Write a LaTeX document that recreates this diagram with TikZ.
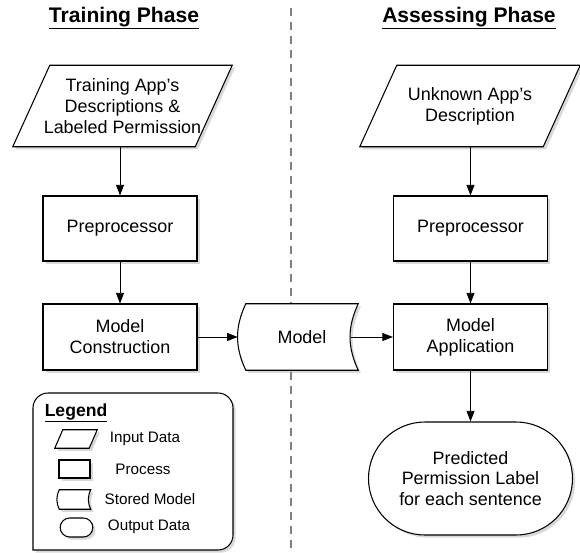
\documentclass[tikz,border=0pt]{standalone}
\usepackage{fontspec}
\setmainfont{Liberation Sans}
\usetikzlibrary{shapes.misc,shadows,arrows.meta}
\pgfdeclarelayer{bg}
\pgfsetlayers{bg,main}

\tikzset{
  shade box/.style={drop shadow={shadow xshift=0.08cm,shadow yshift=-0.08cm,opacity=0.3}},
  outline/.style={draw,fill=white,line width=0.9pt},
  process/.style={rectangle,outline,shade box,align=center},
  output/.style={rounded rectangle,outline,shade box,align=center,inner sep=0pt},
  flow/.style={-{Triangle[length=0.32cm,width=0.24cm]},line width=0.8pt},
  big/.style={font=\fontsize{15.3}{17.8}\selectfont},
  small/.style={font=\fontsize{13}{15}\selectfont},
  heading/.style={font=\fontsize{18}{21}\selectfont\bfseries}
}
% stored data outline drawn round a node
\newcommand\storedpath[2]{%
  \begin{pgfonlayer}{bg}
  \path[outline,shade box] (#1.north west) to[bend right=#2] (#1.south west)
    -- (#1.south east) to[bend left=#2] (#1.north east) -- cycle;
  \end{pgfonlayer}}
% input data outline (parallelogram) drawn round a node
\newcommand\inputpath[2]{%
  \begin{pgfonlayer}{bg}
  \path[outline,shade box] ([xshift=#2]#1.north west) -- (#1.north east)
    -- ([xshift=-#2]#1.south east) -- (#1.south west) -- cycle;
  \end{pgfonlayer}}

\begin{document}
\begin{tikzpicture}[x=0.03cm,y=-0.03cm]
  \useasboundingbox (0,0) rectangle (580,553);

  % phase headings and separator
  \node[heading] (train) at (124,18) {\underline{Training Phase}};
  \node[heading] (assess) at (469,18) {\underline{Assessing Phase}};
  \coordinate (sepTop) at (291,8);
  \coordinate (sepBot) at (291,553);
  \begin{pgfonlayer}{bg}
    \draw[gray,line width=1.1pt,dash pattern=on 0.24cm off 0.18cm] (sepTop) -- (sepBot);
  \end{pgfonlayer}

  % training column
  \node[big,align=center,minimum width=6.57cm,minimum height=2.43cm,inner sep=0pt] (in1) at (122.5,106)
    {Training App's\\Descriptions \&\\Labeled Permission};
  \inputpath{in1}{1.11cm}
  \node[process,big,minimum width=4.62cm,minimum height=1.95cm] (pre1) at (120,228.5) {Preprocessor};
  \node[process,big,minimum width=4.62cm,minimum height=1.98cm] (mc1) at (120,337) {Model\\Construction};

  % stored model
  \node[big,minimum width=3.36cm,minimum height=1.98cm,inner sep=0pt] (model) at (302,337) {Model};
  \storedpath{model}{25}

  % assessing column
  \node[big,align=center,minimum width=6.6cm,minimum height=2.43cm,inner sep=0pt] (in2) at (470,106)
    {Unknown App's\\Description};
  \inputpath{in2}{1.11cm}
  \node[process,big,minimum width=4.62cm,minimum height=1.95cm] (pre2) at (470.5,228.5) {Preprocessor};
  \node[process,big,minimum width=4.62cm,minimum height=1.98cm] (ma2) at (470.5,337) {Model\\Application};
  \node[output,big,minimum width=6.12cm,minimum height=3.39cm] (out2) at (470.5,478.5)
    {Predicted\\Permission Label\\for each sentence};

  \draw[flow] (in1.south -| pre1.north) -- (pre1.north);
  \draw[flow] (pre1) -- (mc1);
  \draw[flow] (mc1.east) -- ([xshift=-0.24cm]model.west);
  \draw[flow] ([xshift=-0.21cm]model.east) -- (ma2.west);
  \draw[flow] (in2.south -| pre2.north) -- (pre2.north);
  \draw[flow] (pre2) -- (ma2);
  \draw[flow] (ma2) -- (out2);

  % legend
  \begin{pgfonlayer}{bg}
    \draw[outline,shade box] (33,550) [rounded corners=0.45cm] -- (33,393) -- (233,393)
      -- (233,550) [sharp corners] -- cycle;
  \end{pgfonlayer}
  \node[font=\fontsize{15}{17}\selectfont\bfseries] (lgtitle) at (76,413) {\underline{Legend}};
  \node[minimum width=1.26cm,minimum height=0.54cm,inner sep=0pt] (lg1) at (76,439) {};
  \inputpath{lg1}{0.24cm}
  \node[process,minimum width=0.93cm,minimum height=0.54cm] (lg2) at (74.5,469) {};
  \node[minimum width=0.93cm,minimum height=0.57cm,inner sep=0pt] (lg3) at (75,499.5) {};
  \storedpath{lg3}{25}
  \node[output,inner sep=1pt,minimum width=1.05cm,minimum height=0.57cm] (lg4) at (76.5,527.5) {};
  \foreach \y/\lx/\txt [count=\i] in {439/145/Input Data,469/143/Process,
      499/150/Stored Model,527/149/Output Data}
    \node[small] (lgt-\i) at (\lx,\y) {\txt};
\end{tikzpicture}
\end{document}
